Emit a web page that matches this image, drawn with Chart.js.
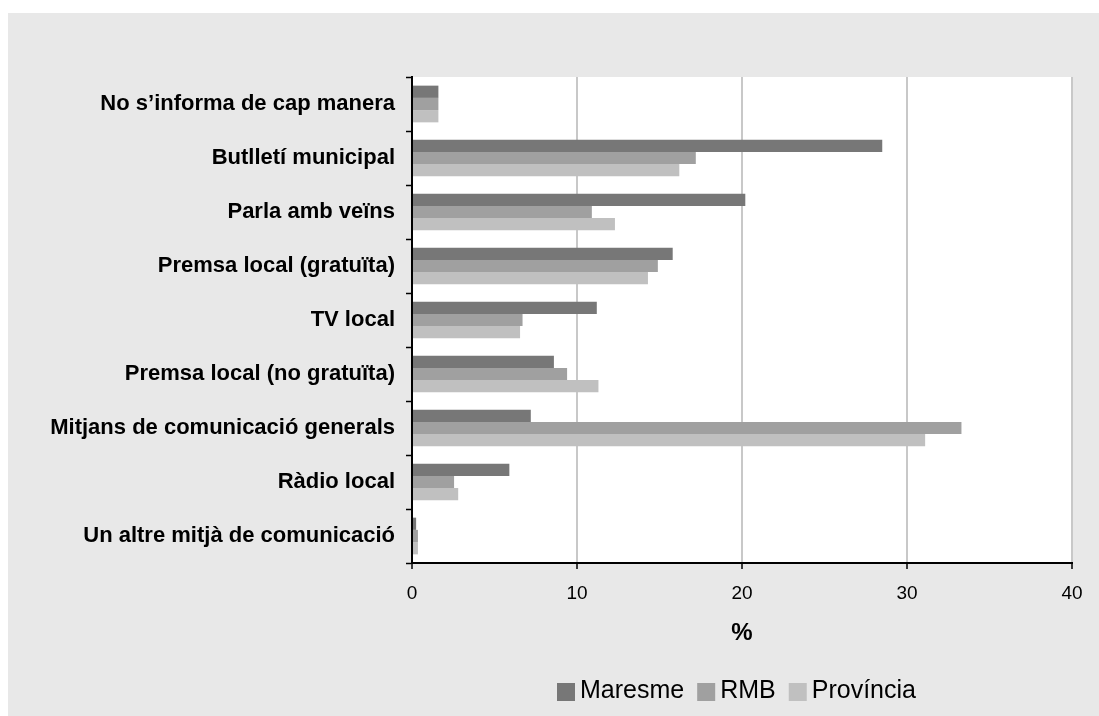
<!DOCTYPE html>
<html>
<head>
<meta charset="utf-8">
<script src="https://cdn.jsdelivr.net/npm/chart.js@4"></script>
<style>
  html, body { margin: 0; padding: 0; background: #ffffff; }
  #wrap { position: absolute; left: 8px; top: 13px; width: 1091px; height: 703px; background: #e8e8e8; }
  canvas { display: block; }
</style>
</head>
<body>
<div id="wrap"><canvas id="c" width="1091" height="703"></canvas></div>
<script>
const categories = [
  "No s’informa de cap manera",
  "Butlletí municipal",
  "Parla amb veïns",
  "Premsa local (gratuïta)",
  "TV local",
  "Premsa local (no gratuïta)",
  "Mitjans de comunicació generals",
  "Ràdio local",
  "Un altre mitjà de comunicació"
];
const seriesNames = ["Maresme", "RMB", "Província"];
const maresme   = [1.6, 28.5, 20.2, 15.8, 11.2, 8.6, 7.2, 5.9, 0.25];
const rmb       = [1.6, 17.2, 10.9, 14.9, 6.7, 9.4, 33.3, 2.55, 0.36];
const provincia = [1.6, 16.2, 12.3, 14.3, 6.55, 11.3, 31.1, 2.8, 0.36];
const xTicks = [0, 10, 20, 30, 40];
const colors = ["#777777", "#a0a0a0", "#c0c0c0"];

const FONT = "'Liberation Sans', Arial, sans-serif";

const plotBg = {
  id: 'plotBg',
  beforeDraw(chart) {
    const {ctx, chartArea: a} = chart;
    ctx.save();
    ctx.fillStyle = '#ffffff';
    ctx.fillRect(a.left, a.top, a.right - a.left, a.bottom - a.top);
    ctx.restore();
  }
};

const customLegend = {
  id: 'customLegend',
  afterDraw(chart) {
    const ctx = chart.ctx;
    ctx.save();
    ctx.font = "25px " + FONT;
    ctx.textBaseline = 'alphabetic';
    ctx.textAlign = 'left';
    let x = 549;
    const boxTop = 670, box = 18, baseline = 685;
    chart.data.datasets.forEach(ds => {
      ctx.fillStyle = ds.backgroundColor;
      ctx.fillRect(x, boxTop, box, box);
      x += box + 5;
      ctx.fillStyle = '#000';
      ctx.fillText(ds.label, x, baseline);
      x += ctx.measureText(ds.label).width + 13;
    });
    ctx.restore();
  }
};

new Chart(document.getElementById('c'), {
  type: 'bar',
  data: {
    labels: categories,
    datasets: [
      { label: seriesNames[0], data: maresme, backgroundColor: colors[0] },
      { label: seriesNames[1], data: rmb, backgroundColor: colors[1] },
      { label: seriesNames[2], data: provincia, backgroundColor: colors[2] }
    ]
  },
  options: {
    indexAxis: 'y',
    responsive: false,
    animation: false,
    devicePixelRatio: 1,
    layout: { padding: { top: 64, right: 27, left: 0, bottom: 0 } },
    datasets: { bar: { categoryPercentage: 0.68, barPercentage: 1.0, borderWidth: 0 } },
    plugins: { legend: { display: false }, tooltip: { enabled: false } },
    scales: {
      x: {
        type: 'linear',
        min: 0, max: 40,
        afterBuildTicks(scale) { scale.ticks = xTicks.map(v => ({ value: v })); },
        afterFit(scale) { scale.height = 153; },
        ticks: { color: '#000', font: { family: FONT, size: 19 }, padding: 13 },
        grid: { color: '#c8c8c8', lineWidth: 2, tickColor: '#000', tickWidth: 1.5, tickLength: 6 },
        border: { color: '#000', width: 2 },
        title: { display: true, text: '%', color: '#000', font: { family: FONT, size: 24, weight: 'bold' }, padding: { top: 0, bottom: 68 } }
      },
      y: {
        type: 'category',
        afterFit(scale) { scale.width = 404; },
        ticks: { color: '#000', font: { family: FONT, size: 22, weight: 'bold' }, padding: 11 },
        grid: { drawOnChartArea: false, tickColor: '#000', tickWidth: 1.5, tickLength: 6, offset: true },
        border: { color: '#000', width: 2 }
      }
    }
  },
  plugins: [plotBg, customLegend]
});
</script>
</body>
</html>
